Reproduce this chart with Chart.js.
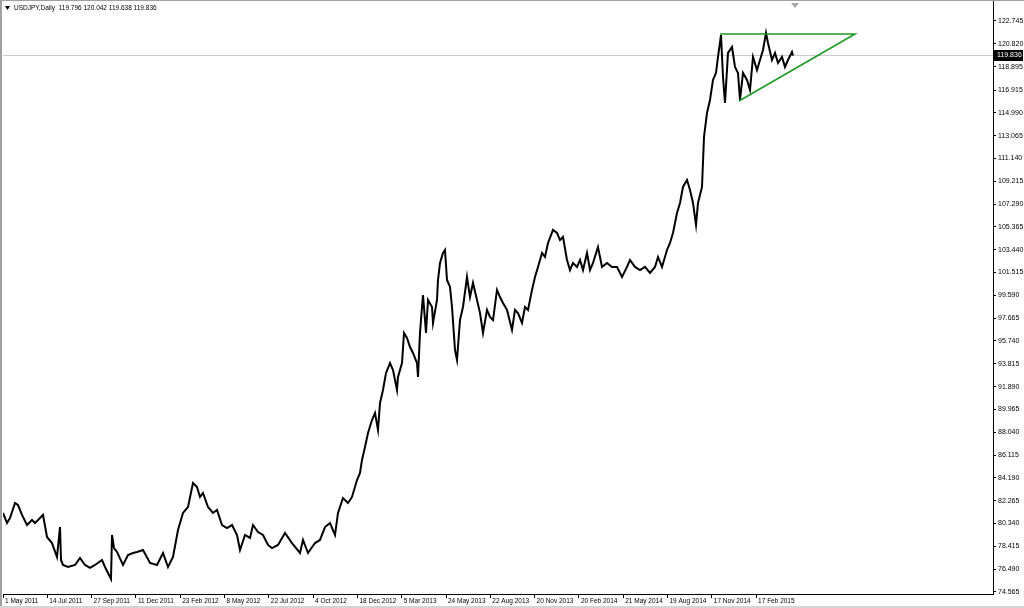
<!DOCTYPE html>
<html>
<head>
<meta charset="utf-8">
<title>USDJPY Daily</title>
<script src="https://cdn.jsdelivr.net/npm/chart.js@4.4.1/dist/chart.umd.min.js"></script>
<style>
  html, body { margin: 0; padding: 0; background: #fff; }
  #wrap { width: 1024px; height: 608px; }
</style>
</head>
<body>
<div id="wrap"><canvas id="usdjpy-chart" width="1024" height="608"></canvas></div>
<script>
// Header of the chart window
const symbolTitle = 'USDJPY,Daily';
const lastBar = [119.796, 120.042, 119.638, 119.836]; // open, high, low, close

// Bar counter along the time axis and the price read at that bar
const barIndex = [
    0, 4, 7, 12, 15, 19, 24, 29, 32, 37,
    40, 44, 49, 54, 57, 58, 60, 65, 72, 77,
    82, 87, 92, 99, 102, 107, 108, 109, 111, 114,
    120, 125, 130, 134, 140, 147, 154, 160, 165, 170,
    175, 180, 185, 190, 194, 197, 200, 205, 210, 214,
    219, 224, 229, 234, 237, 242, 247, 250, 255, 260,
    265, 269, 275, 282, 289, 297, 300, 305, 312, 317,
    322, 327, 332, 335, 340, 345, 349, 354, 357, 359,
    362, 365, 369, 372, 375, 377, 380, 383, 387, 390,
    394, 395, 399, 401, 404, 407, 410, 414, 415, 417,
    419, 420, 423, 425, 429, 430, 434, 435, 437, 440,
    442, 444, 447, 449, 452, 454, 457, 460, 464, 467,
    470, 474, 477, 480, 484, 487, 490, 494, 497, 500,
    504, 509, 512, 515, 519, 522, 525, 529, 532, 535,
    539, 542, 545, 550, 554, 557, 560, 564, 567, 570,
    574, 577, 580, 584, 587, 590, 595, 599, 604, 609,
    614, 619, 624, 627, 632, 637, 642, 647, 652, 655,
    659, 664, 667, 670, 674, 677, 680, 684, 687, 690,
    693, 695, 699, 701, 704, 707, 710, 713, 715, 718,
    720, 722, 725, 729, 732, 735, 737, 740, 744, 747,
    750, 754, 757, 760, 763, 765, 769, 772, 775, 779,
    782, 785, 789, 790
];
const closes = [
    81.23, 80.38, 80.80, 82.07, 81.90, 81.06, 80.21, 80.64, 80.38, 80.80,
    81.06, 79.20, 78.69, 77.51, 80.04, 77.26, 76.84, 76.67, 76.84, 77.43,
    76.84, 76.59, 76.84, 77.26, 76.67, 75.83, 75.66, 79.37, 78.27, 77.94,
    76.84, 77.68, 77.85, 77.94, 78.10, 77.01, 76.84, 77.85, 76.67, 77.51,
    79.79, 81.23, 81.73, 83.76, 83.42, 82.58, 82.91, 81.73, 81.23, 81.48,
    80.21, 79.96, 80.21, 79.37, 78.10, 79.37, 79.12, 80.21, 79.62, 79.37,
    78.53, 78.27, 78.53, 79.54, 78.69, 77.85, 78.95, 77.85, 78.69, 78.95,
    80.04, 80.38, 79.37, 81.23, 82.49, 82.07, 82.58, 84.01, 84.60, 85.70,
    86.80, 87.98, 89.07, 89.67, 88.23, 90.51, 91.61, 93.04, 93.88, 93.29,
    91.61, 92.70, 93.88, 96.42, 95.99, 95.23, 94.73, 93.88, 92.70, 96.42,
    98.61, 99.62, 96.42, 99.20, 98.61, 97.26, 99.20, 100.89, 102.32, 103.17,
    103.42, 100.89, 100.30, 98.61, 94.98, 94.14, 97.51, 98.61, 101.14, 99.45,
    100.64, 99.20, 98.10, 96.42, 98.36, 97.77, 97.51, 100.05, 99.45, 98.95,
    98.36, 96.67, 98.36, 98.10, 97.26, 98.61, 98.36, 100.05, 101.14, 101.99,
    103.17, 102.83, 104.01, 105.11, 104.86, 104.26, 104.52, 102.58, 101.73, 102.32,
    101.99, 102.58, 101.73, 103.17, 101.73, 102.32, 103.67, 101.99, 102.32, 101.99,
    101.99, 101.14, 101.99, 102.58, 101.99, 101.73, 101.99, 101.48, 101.99, 102.83,
    101.99, 103.42, 104.01, 104.86, 106.54, 107.39, 108.74, 109.33, 108.48, 107.39,
    105.53, 107.39, 108.74, 112.96, 114.98, 116.08, 117.77, 118.36, 119.71, 121.56,
    118.02, 115.83, 120.05, 120.55, 118.86, 118.36, 116.08, 118.36, 117.77, 116.92,
    119.71, 118.61, 119.45, 120.30, 121.73, 120.89, 119.45, 120.05, 119.20, 119.71,
    118.86, 119.45, 120.13, 119.836
];

// Date labels under the time axis (one every dateStep bars)
const dateLabels = [
    '1 May 2011', '14 Jul 2011', '27 Sep 2011', '11 Dec 2011', '23 Feb 2012', '8 May 2012',
    '22 Jul 2012', '4 Oct 2012', '18 Dec 2012', '5 Mar 2013', '24 May 2013', '22 Aug 2013',
    '20 Nov 2013', '20 Feb 2014', '21 May 2014', '19 Aug 2014', '17 Nov 2014', '17 Feb 2015'
];
const dateStep = 44.3;

// Price labels on the right axis
const priceTicks = [
    74.565, 76.490, 78.415, 80.340, 82.265, 84.190, 86.115, 88.040, 89.965, 91.890,
    93.815, 95.740, 97.665, 99.590, 101.515, 103.440, 105.365, 107.290, 109.215, 111.140,
    113.065, 114.990, 116.915, 118.895, 120.820, 122.745
];

// Triangle trendlines: top-left corner, apex on the right, lower-left corner
const triangleBars = [717, 852, 736];
const trianglePrices = [121.65, 121.65, 115.99];

const barMin = 0;
const barMax = 990;
const lastClose = lastBar[3];

// Window decorations in the MetaTrader style
const terminalFrame = {
    id: 'terminalFrame',
    beforeDraw(chart) {
        const { ctx, width, height } = chart;
        ctx.save();
        ctx.fillStyle = '#ffffff';
        ctx.fillRect(0, 0, width, height);
        ctx.restore();
    },
    afterDraw(chart) {
        const { ctx, width, height, chartArea } = chart;
        const yScale = chart.scales.y;
        const xScale = chart.scales.x;
        ctx.save();

        // outer frame
        ctx.fillStyle = '#a0a0a0';
        ctx.fillRect(0, 0, 2, height);
        ctx.fillRect(0, 0, width, 1);
        ctx.fillStyle = '#d4d4d4';
        ctx.fillRect(0, height - 2, width, 2);

        // header: symbol, timeframe and last OHLC
        ctx.fillStyle = '#000';
        ctx.beginPath();
        ctx.moveTo(chartArea.left + 2, 6);
        ctx.lineTo(chartArea.left + 7, 6);
        ctx.lineTo(chartArea.left + 4.5, 10);
        ctx.closePath();
        ctx.fill();
        ctx.font = '6.5px "Liberation Sans", Arial, sans-serif';
        ctx.textBaseline = 'middle';
        ctx.textAlign = 'left';
        ctx.fillText(symbolTitle + '  ' + lastBar.map(v => v.toFixed(3)).join(' '), chartArea.left + 11, 8.5);

        // chart shift marker
        const shiftX = xScale.getPixelForValue(barIndex[barIndex.length - 1]) + 2;
        ctx.fillStyle = '#a8a8a8';
        ctx.beginPath();
        ctx.moveTo(shiftX - 4, 3);
        ctx.lineTo(shiftX + 4, 3);
        ctx.lineTo(shiftX, 8);
        ctx.closePath();
        ctx.fill();

        // current price label on the axis
        const py = Math.round(yScale.getPixelForValue(lastClose));
        ctx.fillStyle = '#000';
        ctx.fillRect(chartArea.right + 1, py - 5, 29, 11);
        ctx.fillStyle = '#fff';
        ctx.font = '7px "Liberation Sans", Arial, sans-serif';
        ctx.fillText(lastClose.toFixed(3), chartArea.right + 4, py + 0.5);
        ctx.restore();
    }
};

const axisFont = { family: '"Liberation Sans", Arial, sans-serif', size: 7 };
const dateFont = { family: '"Liberation Sans", Arial, sans-serif', size: 6.5 };

const ctx = document.getElementById('usdjpy-chart').getContext('2d');
new Chart(ctx, {
    type: 'line',
    data: {
        datasets: [
            {
                label: 'USDJPY',
                data: barIndex.map((b, i) => ({ x: b, y: closes[i] })),
                borderColor: '#000',
                borderWidth: 2,
                pointRadius: 0,
                tension: 0,
                order: 1,
            },
            {
                label: 'Last price',
                data: [{ x: barMin, y: lastClose }, { x: barMax, y: lastClose }],
                borderColor: '#c8c8c8',
                borderWidth: 1,
                pointRadius: 0,
                order: 3,
            },
            {
                label: 'Triangle',
                data: triangleBars.map((b, i) => ({ x: b, y: trianglePrices[i] })),
                borderColor: '#1f9a25',
                borderWidth: 1.6,
                pointRadius: 0,
                order: 0,
            },
        ],
    },
    options: {
        responsive: false,
        animation: false,
        layout: { padding: { left: 3, top: 1, right: 0, bottom: 0 } },
        plugins: {
            legend: { display: false },
            tooltip: { enabled: false },
        },
        scales: {
            x: {
                type: 'linear',
                position: 'bottom',
                min: barMin,
                max: barMax,
                border: { color: '#000', width: 1 },
                grid: { drawOnChartArea: false, drawTicks: true, tickLength: 4, color: '#000', tickColor: '#000' },
                ticks: {
                    autoSkip: false,
                    maxRotation: 0,
                    align: 'start',
                    labelOffset: 2,
                    padding: -1,
                    color: '#000',
                    font: dateFont,
                    callback: (value, index) => dateLabels[index],
                },
                afterBuildTicks: (scale) => {
                    scale.ticks = dateLabels.map((_, i) => ({ value: i * dateStep }));
                },
                afterFit: (scale) => {
                    scale.height = 14;
                    scale.paddingLeft = 0;
                    scale.paddingRight = 0;
                },
            },
            y: {
                type: 'linear',
                position: 'right',
                min: 74.39,
                max: 124.43,
                border: { color: '#000', width: 1 },
                grid: { drawOnChartArea: false, drawTicks: true, tickLength: 3, color: '#000', tickColor: '#000' },
                ticks: {
                    autoSkip: false,
                    padding: 2,
                    color: '#000',
                    font: axisFont,
                    callback: (value) => Number(value).toFixed(3),
                },
                afterBuildTicks: (scale) => {
                    scale.ticks = priceTicks.map(v => ({ value: v }));
                },
                afterFit: (scale) => {
                    scale.width = 31;
                    scale.paddingTop = 0;
                    scale.paddingBottom = 0;
                },
            },
        },
    },
    plugins: [terminalFrame],
});
</script>
</body>
</html>
